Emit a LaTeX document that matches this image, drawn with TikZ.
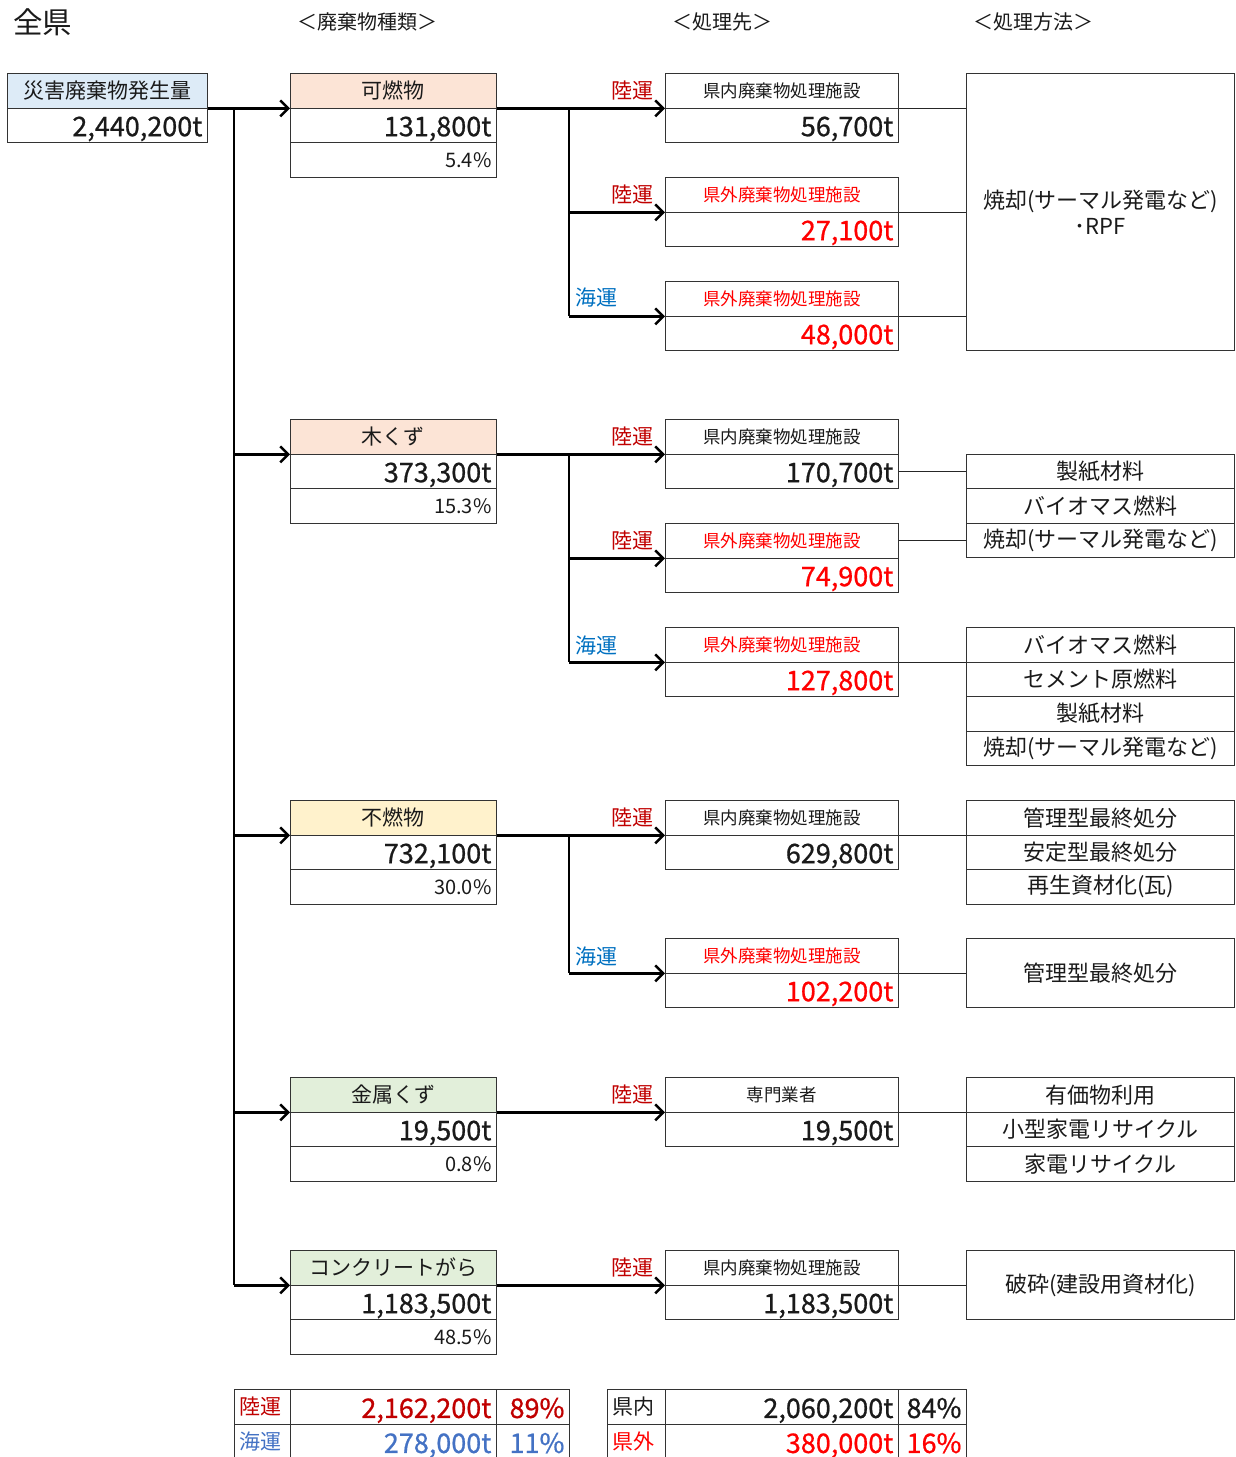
\documentclass[tikz,border=0pt]{standalone}
\usepackage{fontspec}
\setmainfont{Noto Sans CJK JP}
\newfontfamily\numfam[FakeBold=0.7]{Noto Sans CJK JP}
\usetikzlibrary{arrows.meta}
\definecolor{hdrblue}{HTML}{DDEBF7}
\definecolor{hdrpeach}{HTML}{FCE4D6}
\definecolor{hdryellow}{HTML}{FFF2CC}
\definecolor{hdrgreen}{HTML}{E2EFDA}
\definecolor{landred}{HTML}{C00000}
\definecolor{seablue}{HTML}{0070C0}
\definecolor{seablue2}{HTML}{4472C4}
\definecolor{outred}{HTML}{FF0000}
\definecolor{txt}{HTML}{1A1A1A}
\newcommand\szTitle{\fontsize{29.5}{33}\selectfont}
\newcommand\szHead{\fontsize{20}{24}\selectfont}
\newcommand\szJp{\fontsize{21}{25}\selectfont}
\newcommand\szMth{\fontsize{22}{26}\selectfont}
\newcommand\szSm{\fontsize{17.5}{21}\selectfont}
\newcommand\szNum{\numfam\fontsize{27}{31}\selectfont}
\newcommand\szPct{\fontsize{20}{24}\selectfont}
\begin{document}
\begin{tikzpicture}[x=1pt,y=-1pt,
  cell/.style={draw=black!80, line width=0.9pt, anchor=north west, inner xsep=5pt, inner ysep=0pt, minimum height=34.5pt, text=txt},
  wst/.style={cell, text width=196pt, minimum width=206pt},
  dst/.style={cell, text width=223pt, minimum width=233pt},
  mth/.style={cell, text width=258pt, minimum width=268pt, align=center, font=\szMth},
  hd/.style={align=center, font=\szJp},
  num/.style={align=right, font=\szNum, text height=22.5pt, text depth=0.5pt},
  pct/.style={align=right, font=\szPct, text height=16.5pt, text depth=0.4pt},
  dsth/.style={align=center, font=\szSm},
  flow/.style={line width=2.5pt, -{Straight Barb[length=8pt,width=16pt,line width=2.5pt]}},
  trunk/.style={line width=2.5pt},
  thin/.style={line width=1pt, draw=black!85},
  landlbl/.style={text=landred, font=\szJp, inner sep=0pt, anchor=east},
  sealbl/.style={text=seablue, font=\szJp, inner sep=0pt, anchor=west},
  ttl/.style={font=\szHead, inner sep=0pt, text=txt}]
\useasboundingbox (0,0) rectangle (1236,1457);

% titles
\node[ttl, font=\szTitle, anchor=west] (tAll) at (13,22) {全県};
\node[ttl] (tType) at (367,22) {＜廃棄物種類＞};
\node[ttl] (tDest) at (722,22) {＜処理先＞};
\node[ttl] (tMeth) at (1033,22) {＜処理方法＞};

% source
\node[cell, hd, fill=hdrblue, text width=190pt, minimum width=200pt] (srcH) at (7,73) {災害廃棄物発生量};
\node[cell, num, text width=190pt, minimum width=200pt] (srcV) at (7,107.5) {2,440,200t};

% waste types
\node[wst, hd, fill=hdrpeach] (w1H) at (290,73) {可燃物};
\node[wst, num] (w1V) at (290,107.5) {131,800t};
\node[wst, pct] (w1P) at (290,142) {5.4\%};

\node[wst, hd, fill=hdrpeach] (w2H) at (290,419) {木くず};
\node[wst, num] (w2V) at (290,453.5) {373,300t};
\node[wst, pct] (w2P) at (290,488) {15.3\%};

\node[wst, hd, fill=hdryellow] (w3H) at (290,800) {不燃物};
\node[wst, num] (w3V) at (290,834.5) {732,100t};
\node[wst, pct] (w3P) at (290,869) {30.0\%};

\node[wst, hd, fill=hdrgreen] (w4H) at (290,1077) {金属くず};
\node[wst, num] (w4V) at (290,1111.5) {19,500t};
\node[wst, pct] (w4P) at (290,1146) {0.8\%};

\node[wst, hd, fill=hdrgreen] (w5H) at (290,1250) {コンクリートがら};
\node[wst, num] (w5V) at (290,1284.5) {1,183,500t};
\node[wst, pct] (w5P) at (290,1319) {48.5\%};

% destinations
\node[dst, dsth] (d11H) at (665,73) {県内廃棄物処理施設};
\node[dst, num] (d11V) at (665,107.5) {56,700t};
\node[dst, dsth, text=outred] (d12H) at (665,177) {県外廃棄物処理施設};
\node[dst, num, text=outred] (d12V) at (665,211.5) {27,100t};
\node[dst, dsth, text=outred] (d13H) at (665,281) {県外廃棄物処理施設};
\node[dst, num, text=outred] (d13V) at (665,315.5) {48,000t};

\node[dst, dsth] (d21H) at (665,419) {県内廃棄物処理施設};
\node[dst, num] (d21V) at (665,453.5) {170,700t};
\node[dst, dsth, text=outred] (d22H) at (665,523) {県外廃棄物処理施設};
\node[dst, num, text=outred] (d22V) at (665,557.5) {74,900t};
\node[dst, dsth, text=outred] (d23H) at (665,627) {県外廃棄物処理施設};
\node[dst, num, text=outred] (d23V) at (665,661.5) {127,800t};

\node[dst, dsth] (d31H) at (665,800) {県内廃棄物処理施設};
\node[dst, num] (d31V) at (665,834.5) {629,800t};
\node[dst, dsth, text=outred] (d32H) at (665,938) {県外廃棄物処理施設};
\node[dst, num, text=outred] (d32V) at (665,972.5) {102,200t};

\node[dst, dsth] (d41H) at (665,1077) {専門業者};
\node[dst, num] (d41V) at (665,1111.5) {19,500t};

\node[dst, dsth] (d51H) at (665,1250) {県内廃棄物処理施設};
\node[dst, num] (d51V) at (665,1284.5) {1,183,500t};

% methods
\node[mth, minimum height=277pt] (m1) at (966,73) {焼却(サーマル発電など)\\･RPF};

\node[mth] (m21) at (966,453.5) {製紙材料};
\node[mth] (m22) at (966,488) {バイオマス燃料};
\node[mth] (m23) at (966,522.5) {焼却(サーマル発電など)};

\node[mth] (m24) at (966,627) {バイオマス燃料};
\node[mth] (m25) at (966,661.5) {セメント原燃料};
\node[mth] (m26) at (966,696) {製紙材料};
\node[mth] (m27) at (966,730.5) {焼却(サーマル発電など)};

\node[mth] (m31) at (966,800) {管理型最終処分};
\node[mth] (m32) at (966,834.5) {安定型最終処分};
\node[mth] (m33) at (966,869) {再生資材化(瓦)};
\node[mth, minimum height=69pt] (m34) at (966,938) {管理型最終処分};

\node[mth] (m41) at (966,1077) {有価物利用};
\node[mth] (m42) at (966,1111.5) {小型家電リサイクル};
\node[mth] (m43) at (966,1146) {家電リサイクル};

\node[mth, minimum height=69pt] (m51) at (966,1250) {破砕(建設用資材化)};

% trunk
\coordinate (tr) at (234,107.5);
\draw[flow] (srcH.south east) -- (w1H.south west);
\draw[trunk] (tr) -- (tr |- w5H.south west);
\draw[flow] (tr |- w2H.south west) -- (w2H.south west);
\draw[flow] (tr |- w3H.south west) -- (w3H.south west);
\draw[flow] (tr |- w4H.south west) -- (w4H.south west);
\draw[flow] (tr |- w5H.south west) -- (w5H.south west);

% branches
\coordinate (b1) at (569,107.5);
\draw[flow] (w1H.south east) -- (d11H.south west);
\draw[trunk] (b1) -- (b1 |- d13H.south west);
\draw[flow] (b1 |- d12H.south west) -- (d12H.south west);
\draw[flow] (b1 |- d13H.south west) -- (d13H.south west);

\coordinate (b2) at (569,453.5);
\draw[flow] (w2H.south east) -- (d21H.south west);
\draw[trunk] (b2) -- (b2 |- d23H.south west);
\draw[flow] (b2 |- d22H.south west) -- (d22H.south west);
\draw[flow] (b2 |- d23H.south west) -- (d23H.south west);

\coordinate (b3) at (569,834.5);
\draw[flow] (w3H.south east) -- (d31H.south west);
\draw[trunk] (b3) -- (b3 |- d32H.south west);
\draw[flow] (b3 |- d32H.south west) -- (d32H.south west);

\draw[flow] (w4H.south east) -- (d41H.south west);
\draw[flow] (w5H.south east) -- (d51H.south west);

% transport labels
\node[landlbl] (l11) at ([xshift=-11pt]d11H.west) {陸運};
\node[landlbl] (l12) at ([xshift=-11pt]d12H.west) {陸運};
\node[sealbl] (s13) at (575,298) {海運};
\node[landlbl] (l21) at ([xshift=-11pt]d21H.west) {陸運};
\node[landlbl] (l22) at ([xshift=-11pt]d22H.west) {陸運};
\node[sealbl] (s23) at (575,645) {海運};
\node[landlbl] (l31) at ([xshift=-11pt]d31H.west) {陸運};
\node[sealbl] (s32) at (575,956) {海運};
\node[landlbl] (l41) at ([xshift=-11pt]d41H.west) {陸運};
\node[landlbl] (l51) at ([xshift=-11pt]d51H.west) {陸運};

% thin links to methods
\draw[thin] (d11H.south east) -- (d11H.south east -| m1.west);
\draw[thin] (d12H.south east) -- (d12H.south east -| m1.west);
\draw[thin] (d13H.south east) -- (d13H.south east -| m1.west);
\draw[thin] (d21V.east) -- (d21V.east -| m21.west);
\draw[thin] (d22H.east) -- (d22H.east -| m23.west);
\draw[thin] (d23H.south east) -- (d23H.south east -| m24.west);
\draw[thin] (d31H.south east) -- (d31H.south east -| m31.west);
\draw[thin] (d32H.south east) -- (d32H.south east -| m34.west);
\draw[thin] (d41H.south east) -- (d41H.south east -| m41.west);
\draw[thin] (d51H.south east) -- (d51H.south east -| m51.west);

% summary tables
\node[cell, text width=46pt, minimum width=56pt, minimum height=35pt, font=\szJp, text=landred] (tl1a) at (234,1389) {陸運};
\node[cell, num, text width=196pt, minimum width=206pt, minimum height=35pt, text=landred] (tl1b) at (290,1389) {2,162,200t};
\node[cell, num, text width=63pt, minimum width=73pt, minimum height=35pt, text=landred] (tl1c) at (496,1389) {89\%};
\node[cell, text width=46pt, minimum width=56pt, minimum height=35pt, font=\szJp, text=seablue2] (tl2a) at (234,1424) {海運};
\node[cell, num, text width=196pt, minimum width=206pt, minimum height=35pt, text=seablue2] (tl2b) at (290,1424) {278,000t};
\node[cell, num, text width=63pt, minimum width=73pt, minimum height=35pt, text=seablue2] (tl2c) at (496,1424) {11\%};

\node[cell, text width=48pt, minimum width=58pt, minimum height=35pt, font=\szJp] (tr1a) at (607,1389) {県内};
\node[cell, num, text width=223pt, minimum width=233pt, minimum height=35pt] (tr1b) at (665,1389) {2,060,200t};
\node[cell, num, text width=58pt, minimum width=68pt, minimum height=35pt] (tr1c) at (898,1389) {84\%};
\node[cell, text width=48pt, minimum width=58pt, minimum height=35pt, font=\szJp, text=outred] (tr2a) at (607,1424) {県外};
\node[cell, num, text width=223pt, minimum width=233pt, minimum height=35pt, text=outred] (tr2b) at (665,1424) {380,000t};
\node[cell, num, text width=58pt, minimum width=68pt, minimum height=35pt, text=outred] (tr2c) at (898,1424) {16\%};
\end{tikzpicture}
\end{document}
